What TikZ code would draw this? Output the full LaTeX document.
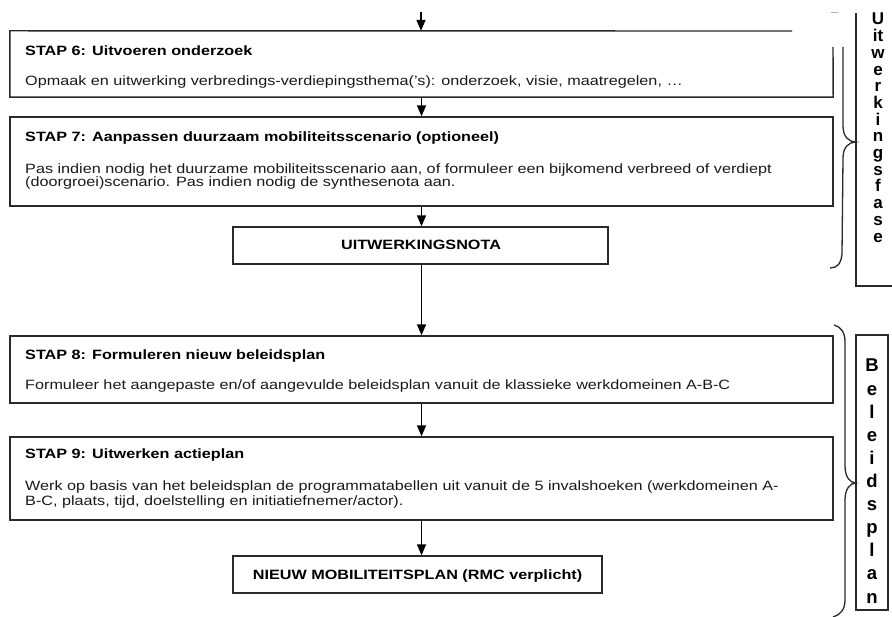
\documentclass[tikz,border=0pt]{standalone}
\usepackage{fontspec}
\setmainfont{Liberation Sans}[FakeStretch=1.2]
\newfontfamily\vfont{Liberation Sans}
\usetikzlibrary{arrows.meta}
\definecolor{edge}{HTML}{2A2A2A}
\definecolor{txt}{HTML}{1A1A1A}
\begin{document}
\begin{tikzpicture}[x=1pt,y=-1pt,
  boxshape/.style={draw=edge, line width=1.4pt, rectangle, inner sep=0pt},
  ghost/.style={rectangle, inner sep=0pt},
  title/.style={anchor=base west, inner sep=0pt, font=\fontsize{13.5}{15}\selectfont\bfseries, text=black},
  body/.style={anchor=base west, inner sep=0pt, font=\fontsize{13.5}{15}\selectfont, text=txt},
  center text/.style={anchor=base, inner sep=0pt, font=\fontsize{13.5}{15}\selectfont\bfseries, text=black},
  flow/.style={draw=black, line width=1.7pt, -{Triangle[width=9pt,length=11pt]}},
  bracestyle/.style={draw=edge, line width=1.3pt},
  vletter/.style={anchor=base, inner sep=0pt, font=\vfont\bfseries\fontsize{17}{17}\selectfont},
  bletter/.style={anchor=base, inner sep=0pt, font=\vfont\bfseries\fontsize{18.5}{18.5}\selectfont},
]
\useasboundingbox (0,0) rectangle (892,617);
\fill[white] (0,0) rectangle (892,617);

% boxes
\node[ghost, minimum width=823pt, minimum height=66pt] (s6) at (421.5,64) {};
\draw[edge, line width=1.4pt] (792,31) -- (s6.north west) -- (s6.south west) -- (s6.south east) -- (833,47);
\node[boxshape, minimum width=823pt, minimum height=89pt] (s7) at (421.5,161.5) {};
\node[boxshape, minimum width=375pt, minimum height=37pt] (uit) at (420.5,245.5) {};
\node[boxshape, minimum width=823pt, minimum height=67pt] (s8) at (421.5,369.5) {};
\node[boxshape, minimum width=823pt, minimum height=83pt] (s9) at (421.5,478.5) {};
\node[boxshape, minimum width=369pt, minimum height=37pt] (nieuw) at (417.5,574.5) {};

% texts
\node[title] (t6) at (25,56) {STAP 6: Uitvoeren onderzoek};
\node[body] (b6) at (25,86) {Opmaak en uitwerking verbredings-verdiepingsthema('s): onderzoek, visie, maatregelen, …};
\node[title] (t7) at (25,141.5) {STAP 7: Aanpassen duurzaam mobiliteitsscenario (optioneel)};
\node[body] (b7a) at (25,174) {Pas indien nodig het duurzame mobiliteitsscenario aan, of formuleer een bijkomend verbreed of verdiept};
\node[body] (b7b) at (25,187) {(doorgroei)scenario. Pas indien nodig de synthesenota aan.};
\node[center text] (tu) at (421,250) {UITWERKINGSNOTA};
\node[title] (t8) at (25,360) {STAP 8: Formuleren nieuw beleidsplan};
\node[body] (b8) at (25,390) {Formuleer het aangepaste en/of aangevulde beleidsplan vanuit de klassieke werkdomeinen A-B-C};
\node[title] (t9) at (25,459) {STAP 9: Uitwerken actieplan};
\node[body] (b9a) at (25,490) {Werk op basis van het beleidsplan de programmatabellen uit vanuit de 5 invalshoeken (werkdomeinen A-};
\node[body] (b9b) at (25,505) {B-C, plaats, tijd, doelstelling en initiatiefnemer/actor).};
\node[center text] (tn) at (417.5,579) {NIEUW MOBILITEITSPLAN (RMC verplicht)};

% arrows
\coordinate (topin) at (421,12);
\draw[flow] (topin) -- (topin |- s6.north);
\draw[flow] (s6.south) -- (s7.north);
\draw[flow] (s7.south) -- (s7.south |- uit.north);
\draw[flow] (s7.south |- uit.south) -- (s8.north);
\draw[flow] (s8.south) -- (s9.north);
\draw[flow] (s9.south) -- (s9.south |- nieuw.north);

% small grey mark
\draw[gray!60, line width=1pt] (831,13) -- (838,13);

% braces
\draw[bracestyle] (843,47) -- (843,126) .. controls (843,137) and (849,142) .. (856,142)
  .. controls (849,142) and (843,147) .. (843,158) -- (842,254) .. controls (841,264) and (837,268) .. (830,268);
\draw[bracestyle] (834,325) .. controls (841,327) and (845,332) .. (845,342) -- (845,466)
  .. controls (845,477) and (850,483) .. (856,483)
  .. controls (850,483) and (845,489) .. (845,500) -- (845,600) .. controls (845,610) and (840,615) .. (833,617);

% side label boxes
\draw[edge, line width=1.4pt] (856,13) -- (856,286) -- (892,286);
\node[boxshape, minimum width=32pt, minimum height=275pt] (bpbox) at (872,472.5) {};

\foreach \l [count=\i from 0] in {U,it,w,e,r,k,i,n,g,s,f,a,s,e}
  \node[vletter] (uw\i) at (878,25+16.7*\i) {\l};
\foreach \l [count=\i from 0] in {B,e,l,e,i,d,s,p,l,a,n}
  \node[bletter] (bp\i) at (872,372+23.1*\i) {\l};
\end{tikzpicture}
\end{document}
